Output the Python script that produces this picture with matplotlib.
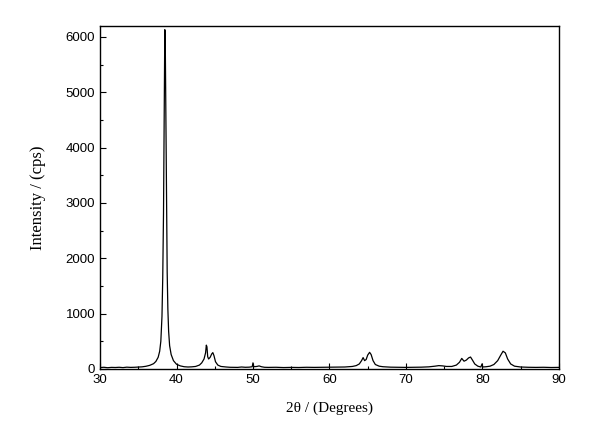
import matplotlib
matplotlib.use('Agg')
import matplotlib.pyplot as plt
from matplotlib.ticker import MultipleLocator

# XRD pattern
two_theta = [30.0, 30.5, 31.0, 31.5, 32.0, 32.5, 33.0, 33.5, 34.0, 34.5,
             35.0, 35.5, 36.0, 36.5, 37.0, 37.3, 37.6, 37.8, 37.95, 38.1,
             38.2, 38.3, 38.38, 38.43, 38.47, 38.52, 38.57, 38.63, 38.7, 38.78,
             38.87, 38.97, 39.1, 39.3, 39.6, 40.0, 40.5, 41.0, 41.5, 42.0,
             42.5, 43.0, 43.3, 43.6, 43.8, 43.9, 43.98, 44.08, 44.2, 44.4,
             44.6, 44.75, 44.9, 45.1, 45.4, 45.8, 46.5, 47.0, 48.0, 48.5,
             49.0, 49.5, 49.9, 50.0, 50.1, 50.5, 50.8, 51.1, 51.5, 52.0,
             53.0, 54.0, 55.0, 56.0, 57.0, 58.0, 59.0, 60.0, 61.0, 62.0,
             63.0, 63.5, 63.9, 64.2, 64.4, 64.6, 64.8, 65.0, 65.25, 65.45,
             65.7, 66.0, 66.5, 67.0, 68.0, 69.0, 70.0, 71.0, 72.0, 73.0,
             73.8, 74.3, 74.8, 75.3, 76.0, 76.6, 77.0, 77.3, 77.6, 77.9,
             78.2, 78.45, 78.7, 79.0, 79.4, 79.8, 79.95, 80.05, 80.5, 81.0,
             81.5, 82.0, 82.4, 82.7, 83.0, 83.3, 83.7, 84.2, 85.0, 86.0,
             87.0, 88.0, 89.0, 90.0]
intensity = [25, 30, 22, 28, 26, 30, 24, 32, 28, 30,
             35, 38, 48, 65, 95, 135, 210, 320, 500, 950,
             1650, 2800, 4300, 5300, 6130, 6080, 5200, 3900, 2700, 1750,
             1080, 680, 420, 260, 150, 85, 55, 40, 35, 38,
             45, 70, 110, 180, 290, 430, 400, 220, 180, 210,
             270, 295, 240, 130, 70, 45, 35, 30, 28, 35,
             30, 32, 40, 110, 40, 45, 55, 40, 30, 28,
             30, 25, 28, 26, 30, 28, 30, 30, 32, 35,
             45, 60, 90, 150, 205, 150, 170, 250, 300, 260,
             150, 80, 50, 40, 32, 30, 28, 30, 32, 38,
             50, 60, 55, 45, 45, 70, 120, 190, 140, 160,
             200, 215, 160, 90, 50, 35, 90, 35, 40, 50,
             80, 150, 250, 320, 290, 180, 90, 50, 35, 30,
             28, 30, 26, 28]

fig = plt.figure(figsize=(5.99, 4.30), dpi=100)
ax = fig.add_axes([0.167, 0.142, 0.766, 0.798])
ax.plot(two_theta, intensity, color='black', linewidth=0.9)

ax.set_xlim(30, 90)
ax.set_ylim(0, 6200)
ax.xaxis.set_major_locator(MultipleLocator(10))
ax.xaxis.set_minor_locator(MultipleLocator(5))
ax.yaxis.set_major_locator(MultipleLocator(1000))
ax.yaxis.set_minor_locator(MultipleLocator(500))
ax.tick_params(which='both', direction='in', top=False, right=False,
               labelsize=9.5, width=0.8)
ax.tick_params(which='major', length=4)
ax.tick_params(which='minor', length=2.5)
for lbl in ax.get_xticklabels() + ax.get_yticklabels():
    lbl.set_family('Liberation Sans')
for sp in ax.spines.values():
    sp.set_linewidth(1.0)

ax.set_xlabel('2θ / (Degrees)', family='Liberation Serif', fontsize=11, labelpad=11)
ax.set_ylabel('Intensity / (cps)', family='Liberation Serif', fontsize=12, labelpad=14)

fig.savefig('out.png', dpi=100)
